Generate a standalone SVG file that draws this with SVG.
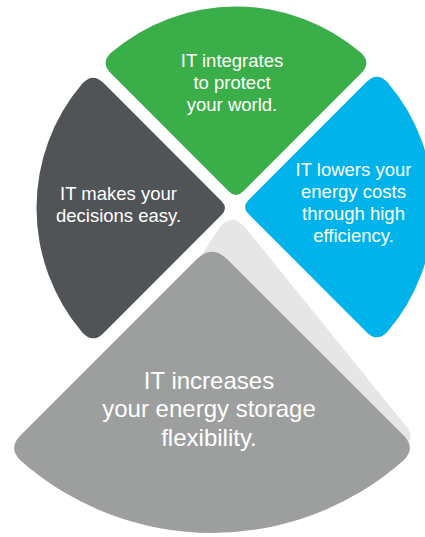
<svg xmlns="http://www.w3.org/2000/svg" width="425" height="537" viewBox="0 0 425 537">
  <style>
    .lbl { font-family: "Liberation Sans", Arial, sans-serif; fill: #ffffff; text-anchor: middle; }
    .s { font-size: 18.5px; }
    .l { font-size: 24px; }
  </style>
  <rect width="425" height="537" fill="#ffffff"/>
  <g id="shadow">
    <path d="M217.9,230.1 Q231,210 246.1,228.6 L406.5,426.8 Q415.3,437.7 404.3,446.3 A293,293 0 0 1 71.3,455.5 Z" fill="#e6e6e6"/>
  </g>
  <g id="green">
    <path d="M228.93,191.43 L110.84,73.34 Q100.24,62.74 111.24,52.56 A192,192 0 0 1 360.76,52.56 Q371.76,62.74 361.16,73.34 L243.07,191.43 Q236,198.5 228.93,191.43 Z" fill="#3aae49"/>
    <text class="lbl s" x="232" y="67">IT integrates</text>
    <text class="lbl s" x="232" y="89">to protect</text>
    <text class="lbl s" x="232" y="111">your world.</text>
  </g>
  <g id="dark">
    <path d="M221.43,200.93 L103.34,82.84 Q92.74,72.24 82.56,83.24 A192,192 0 0 0 82.56,332.76 Q92.74,343.76 103.34,333.16 L221.43,215.07 Q228.5,208 221.43,200.93 Z" fill="#515457"/>
    <text class="lbl s" x="118.5" y="199.5">IT makes your</text>
    <text class="lbl s" x="118.5" y="221.5">decisions easy.</text>
  </g>
  <g id="blue">
    <path d="M248.57,199.93 L366.66,81.84 Q377.26,71.24 387.44,82.24 A192,192 0 0 1 387.44,331.76 Q377.26,342.76 366.66,332.16 L248.57,214.07 Q241.5,207 248.57,199.93 Z" fill="#00b4eb"/>
    <text class="lbl s" x="353.5" y="175.7">IT lowers your</text>
    <text class="lbl s" x="353.5" y="197.7">energy costs</text>
    <text class="lbl s" x="353.5" y="220">through high</text>
    <text class="lbl s" x="353.5" y="242.2">efficiency.</text>
  </g>
  <g id="gray">
    <path d="M196.44,259.56 L20.38,435.62 Q7.65,448.35 20.8,460.7 A289,289 0 0 0 403.2,460.7 Q416.35,448.35 403.62,435.62 L227.56,259.56 Q212,244 196.44,259.56 Z" fill="#9d9f9e"/>
    <text class="lbl l" x="209" y="388.5">IT increases</text>
    <text class="lbl l" x="209" y="417">your energy storage</text>
    <text class="lbl l" x="209" y="445.5">flexibility.</text>
  </g>
  <g id="connectors"/>
</svg>
